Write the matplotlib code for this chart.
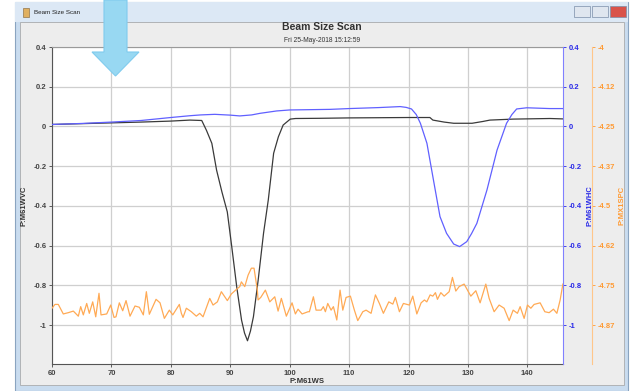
import matplotlib
matplotlib.use("Agg")
import matplotlib.pyplot as plt
from matplotlib.patches import Rectangle, Polygon

plt.rcParams['font.family'] = ['Liberation Sans', 'DejaVu Sans']

# ---- Data ----
# P:M61WVC (left axis, black)
vc_x = [60, 65, 70, 75, 80, 83.2, 85.2, 86.0, 86.9, 87.7, 88.6, 89.5, 90.25, 91.1,
        91.9, 92.4, 92.9, 93.4, 93.9, 94.7, 95.6, 96.4, 97.3, 98.1, 98.9, 100.1,
        101, 105, 110, 115, 120, 123.6, 124.1, 126, 127.6, 130.7, 132.5, 133.7,
        137.6, 143.8, 146]
vc_y = [0.010, 0.014, 0.018, 0.022, 0.027, 0.032, 0.030, -0.02, -0.085, -0.22, -0.33,
        -0.43, -0.605, -0.81, -0.975, -1.04, -1.079, -1.03, -0.958, -0.773, -0.538,
        -0.37, -0.135, -0.052, 0.007, 0.037, 0.040, 0.041, 0.043, 0.044, 0.045,
        0.045, 0.032, 0.022, 0.016, 0.016, 0.025, 0.032, 0.037, 0.040, 0.038]

# P:M61WHC (right blue axis)
hc_x = [60, 65, 70, 75, 80, 83.2, 85, 87.4, 90, 91.6, 93.6, 95, 97.8, 100, 106.8,
        110, 115, 118.6, 119.6, 120.5, 121.3, 122, 123.1, 124.2, 125.3, 126.4,
        127.6, 128.6, 129.8, 130.6, 131.5, 133.2, 134.9, 136.5, 137.4, 138.2,
        139.9, 143.8, 146]
hc_y = [0.010, 0.015, 0.022, 0.030, 0.045, 0.054, 0.058, 0.061, 0.057, 0.053, 0.058,
        0.066, 0.078, 0.083, 0.086, 0.090, 0.095, 0.100, 0.096, 0.088, 0.06, 0.016,
        -0.085, -0.27, -0.454, -0.538, -0.592, -0.605, -0.58, -0.54, -0.488, -0.32,
        -0.119, 0.016, 0.06, 0.088, 0.094, 0.090, 0.090]

# P:MX1SPC (right orange axis)
spc_x = [60.0, 60.5, 61.06, 61.9, 62.74, 63.59, 64.43, 64.83, 65.27, 65.84, 66.28,
         66.85, 67.36, 67.91, 68.25, 69.21, 69.88, 70.44, 70.77, 71.33, 71.9, 72.46,
         73.13, 73.97, 74.7, 75.37, 75.88, 76.38, 77.51, 78.18, 78.91, 79.75, 80.32,
         81.43, 81.77, 82.05, 82.61, 83.45, 84.29, 84.86, 85.42, 86.55, 87.1, 87.83,
         88.5, 89.51, 90.19, 91.03, 91.6, 91.87, 92.44, 93.0, 93.55, 94.0, 94.56,
         94.68, 95.13, 95.91, 96.65, 97.49, 98.05, 98.6, 99.44, 100.4, 100.96,
         101.41, 102.09, 103.1, 103.32, 103.99, 104.44, 105.29, 105.67, 106.01,
         106.41, 106.97, 107.36, 107.93, 108.48, 108.94, 109.49, 110.22, 110.89,
         111.46, 112.31, 112.86, 113.7, 114.43, 115.1, 115.77, 116.68, 117.36,
         117.79, 118.47, 119.14, 120.15, 120.72, 121.4, 122.12, 122.68, 123.08,
         123.64, 124.09, 124.53, 124.87, 125.44, 126.0, 126.84, 127.39, 127.96,
         128.52, 129.36, 130.49, 131.33, 132.05, 133.01, 133.57, 134.41, 135.25,
         136.09, 136.94, 137.61, 138.33, 138.79, 139.46, 140.02, 140.59, 141.14,
         142.15, 142.94, 143.67, 144.39, 144.97, 145.52, 145.98]
spc_y = [-4.822, -4.810, -4.810, -4.840, -4.836, -4.831, -4.847, -4.817, -4.843,
         -4.807, -4.838, -4.802, -4.849, -4.775, -4.843, -4.840, -4.812, -4.851,
         -4.849, -4.805, -4.830, -4.798, -4.847, -4.815, -4.819, -4.843, -4.770,
         -4.841, -4.794, -4.805, -4.854, -4.828, -4.843, -4.810, -4.838, -4.851,
         -4.822, -4.833, -4.847, -4.838, -4.849, -4.791, -4.812, -4.802, -4.770,
         -4.798, -4.777, -4.763, -4.754, -4.739, -4.754, -4.718, -4.696, -4.696,
         -4.765, -4.796, -4.788, -4.765, -4.802, -4.786, -4.831, -4.791, -4.847,
         -4.805, -4.840, -4.825, -4.840, -4.833, -4.833, -4.786, -4.828, -4.828,
         -4.817, -4.833, -4.807, -4.828, -4.817, -4.859, -4.765, -4.828, -4.788,
         -4.784, -4.828, -4.861, -4.833, -4.828, -4.838, -4.780, -4.807, -4.838,
         -4.802, -4.809, -4.788, -4.833, -4.807, -4.812, -4.784, -4.840, -4.805,
         -4.796, -4.802, -4.780, -4.784, -4.773, -4.794, -4.773, -4.784, -4.770,
         -4.725, -4.768, -4.754, -4.746, -4.784, -4.767, -4.805, -4.746, -4.791,
         -4.833, -4.812, -4.822, -4.861, -4.828, -4.838, -4.817, -4.854, -4.812,
         -4.822, -4.810, -4.805, -4.833, -4.836, -4.825, -4.838, -4.796, -4.746]

x_ticks = [60, 70, 80, 90, 100, 110, 120, 130, 140]
left_ticks = [0.4, 0.2, 0, -0.2, -0.4, -0.6, -0.8, -1]
left_labels = ['0.4', '0.2', '0', '-0.2', '-0.4', '-0.6', '-0.8', '-1']
spc_ticks = [-4, -4.125, -4.25, -4.375, -4.5, -4.625, -4.75, -4.875]
spc_labels = ['-4', '-4.12', '-4.25', '-4.37', '-4.5', '-4.62', '-4.75', '-4.87']

W, H = 630, 391
fig = plt.figure(figsize=(W / 100, H / 100), dpi=100)
fig.patch.set_facecolor('white')

# ---- window chrome (background layer) ----
bg = fig.add_axes([0, 0, 1, 1], zorder=-5)
bg.set_xlim(0, W)
bg.set_ylim(H, 0)
bg.axis('off')
bg.add_patch(Rectangle((15, 2), 613, 389, facecolor='#c9dcef', edgecolor='#8aa4c0', lw=0.8))
bg.add_patch(Rectangle((15, 2), 613, 20, facecolor='#dce8f5', edgecolor='none'))
bg.add_patch(Rectangle((20, 22), 604, 363, facecolor='#ededed', edgecolor='#a0a0a0', lw=0.5))
bg.text(34, 13, 'Beam Size Scan', fontsize=4.5, va='center', color='#222222')
bg.add_patch(Rectangle((23, 8), 6, 9, facecolor='#e0b060', edgecolor='#806030', lw=0.4))
for bx, bc in [(574, '#dfe6ef'), (592, '#dfe6ef'), (610, '#d9534a')]:
    bg.add_patch(Rectangle((bx, 6), 16, 11, facecolor=bc, edgecolor='#7a8ea8', lw=0.5))
bg.text(322, 27, 'Beam Size Scan', fontsize=7.5, fontweight='bold',
        ha='center', va='center', color='#333333')
bg.text(322, 40, 'Fri 25-May-2018 15:12:59', fontsize=4.8,
        ha='center', va='center', color='#333333')

# ---- plot axes ----
left, right, top, bottom = 52, 563, 47, 364
pw = right - left
ax = fig.add_axes([left / W, 1 - bottom / H, pw / W, (bottom - top) / H])
ax.set_facecolor('white')
ax.set_xlim(60, 146)
ax.set_ylim(-1.196, 0.4)
ax.set_xticks(x_ticks)
ax.set_yticks(left_ticks)
ax.set_yticklabels(left_labels)
ax.grid(True, color='#cfcfcf', lw=0.9)
ax.set_axisbelow(True)
ax.tick_params(labelsize=5.5, colors='#444444', length=2, width=0.6, pad=2)
for lab in ax.get_xticklabels() + ax.get_yticklabels():
    lab.set_fontweight('bold')
for s in ['left', 'bottom']:
    ax.spines[s].set_color('#555555')
ax.spines['top'].set_color('#9a9a9a')
ax.spines['right'].set_visible(False)
ax.set_xlabel('P:M61WS', fontsize=5.5, fontweight='bold', color='#333333', labelpad=1)
ax.set_ylabel('P:M61WVC', fontsize=5.5, fontweight='bold', color='#333333')
ax.yaxis.set_label_coords((28 - left) / pw, 0.5)

ax2 = ax.twinx()
ax2.set_ylim(ax.get_ylim())
ax2.set_yticks(left_ticks)
ax2.set_yticklabels(left_labels)
ax2.tick_params(labelsize=5.5, colors='#2a2ae8', length=2, width=0.6, pad=2)
for lab in ax2.get_yticklabels():
    lab.set_fontweight('bold')
for s in ['left', 'top', 'bottom']:
    ax2.spines[s].set_visible(False)
ax2.spines['right'].set_color('#8080ff')
ax2.set_ylabel('P:M61WHC', fontsize=5.5, fontweight='bold', color='#2a2ae8')
ax2.yaxis.set_label_coords((587 - left) / pw, 0.5)

ax3 = ax.twinx()
ax3.set_ylim(-4.9975, -4.0)
ax3.set_yticks(spc_ticks)
ax3.set_yticklabels(spc_labels)
# 29 px offset from the blue axis (points = px * 0.72)
ax3.spines['right'].set_position(('outward', 29 * 0.72))
for s in ['left', 'top', 'bottom']:
    ax3.spines[s].set_visible(False)
ax3.spines['right'].set_color('#ffc68a')
ax3.tick_params(labelsize=5.5, colors='#ff9a33', length=2, width=0.6, pad=2)
for lab in ax3.get_yticklabels():
    lab.set_fontweight('bold')
ax3.set_ylabel('P:MX1SPC', fontsize=5.5, fontweight='bold', color='#ff9a33')
ax3.yaxis.set_label_coords((619 - left) / pw, 0.5)

ax3.plot(spc_x, spc_y, color='#ffaa55', lw=0.9)
ax.plot(vc_x, vc_y, color='#3a3a3a', lw=0.9, zorder=3)
ax2.plot(hc_x, hc_y, color='#6060ff', lw=0.9)

# ---- overlay arrow ----
ov = fig.add_axes([0, 0, 1, 1], zorder=20)
ov.set_xlim(0, W)
ov.set_ylim(H, 0)
ov.axis('off')
ov.patch.set_alpha(0)
ov.add_patch(Polygon([(104, 0), (127, 0), (127, 52), (139, 52), (115.5, 76),
                      (92, 52), (104, 52)], closed=True,
                     facecolor='#98d8f2', edgecolor='#7fcbee', lw=0.8))

fig.savefig('out.png', dpi=100)
